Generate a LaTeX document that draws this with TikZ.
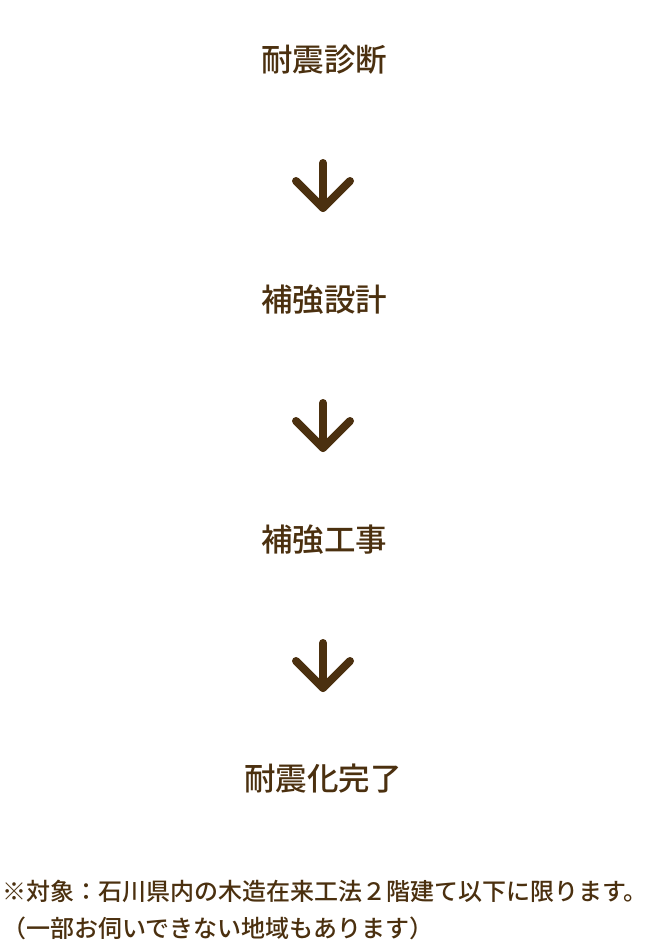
\documentclass[tikz,border=0pt]{standalone}
\usepackage{fontspec}
\newfontfamily\cjk{Noto Sans CJK JP}[UprightFont=* Medium,BoldFont=* Bold]
\usepackage{tikz}
\usetikzlibrary{positioning}
\definecolor{brn}{HTML}{4B300F}

\begin{document}
\begin{tikzpicture}[x=1pt,y=-1pt]
\useasboundingbox (0,0) rectangle (648,947);
\tikzset{stepname/.style={font=\cjk\fontsize{31.5}{36}\selectfont,text=brn,inner sep=0pt},
notetext/.style={font=\cjk\fontsize{24}{28}\selectfont,text=brn,inner sep=0pt,anchor=west},
arr/.style={draw=brn,line width=8pt,line cap=round,line join=round}}
\node[stepname] (s1) at (324,60) {耐震診断};
\node[stepname] (s2) at (324,300) {補強設計};
\node[stepname] (s3) at (324,540) {補強工事};
\node[stepname] (s4) at (323,779) {耐震化完了};

\coordinate (a1) at (323,163);
\coordinate (b1) at (323,208);
\coordinate (a2) at (323,403);
\coordinate (b2) at (323,448);
\coordinate (a3) at (323,643);
\coordinate (b3) at (323,688);
\foreach \i in {1,2,3}{
\draw[arr] (a\i) -- (b\i);
\draw[arr] (b\i) ++(-27,-27) -- (b\i) -- ++(27,-27);
}

\node[notetext] (note1) at (2,891) {※対象：石川県内の木造在来工法２階建て以下に限ります。};
\node[notetext] (note2) at (2,928) {（一部お伺いできない地域もあります）};
\end{tikzpicture}
\end{document}
